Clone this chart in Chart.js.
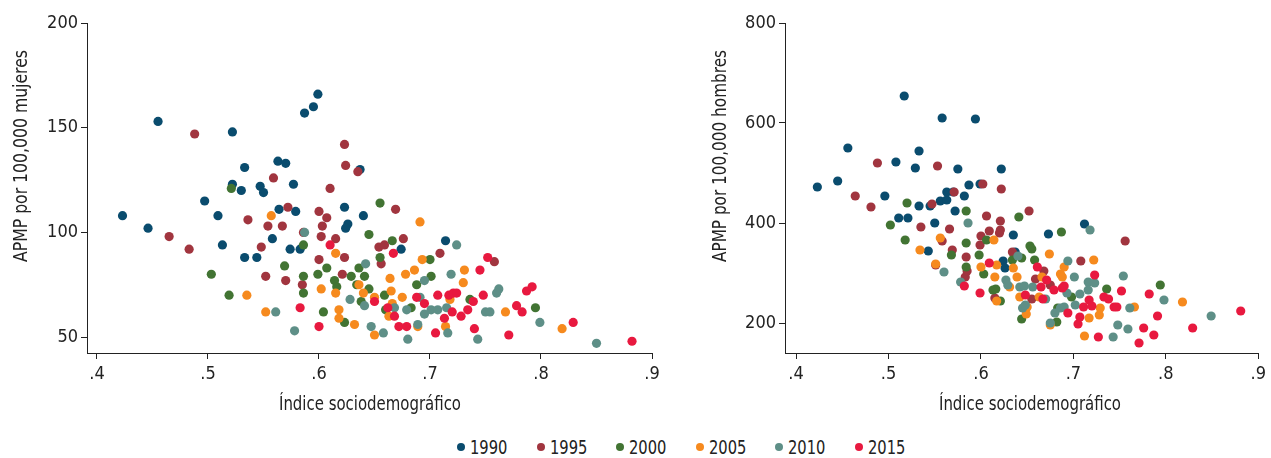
<!DOCTYPE html>
<html>
<head>
<meta charset="utf-8">
<script src="https://cdn.jsdelivr.net/npm/chart.js@4.4.1/dist/chart.umd.min.js"></script>
<style>
html,body{margin:0;padding:0;background:#fff;width:1271px;height:458px;overflow:hidden;}
#wrapL{position:absolute;left:0;top:0;width:665px;height:423px;}
#wrapR{position:absolute;left:700px;top:0;width:571px;height:423px;}
#legend{position:absolute;left:457px;top:436px;height:22px;display:flex;font-family:'Liberation Sans Narrow','DejaVu Sans Condensed',sans-serif;font-size:19px;color:#222;}
#legend .item{width:79.6px;display:flex;align-items:center;white-space:nowrap;}
#legend .dot{display:inline-block;width:8px;height:8px;border-radius:50%;margin-right:5px;flex:none;}
#legend .txt{display:inline-block;transform:scaleX(0.86);transform-origin:left center;}
</style>
</head>
<body>
<div id="wrapL"><canvas id="cL"></canvas></div>
<div id="wrapR"><canvas id="cR"></canvas></div>
<div id="legend"></div>
<script>
// ---- data ----
const years = ['1990','1995','2000','2005','2010','2015'];
const xTicks = [0.4,0.5,0.6,0.7,0.8,0.9];
const yTicksMujeres = [50,100,150,200];
const yTicksHombres = [200,400,600,800];
const xTitle = 'Índice sociodemográfico';
const yTitleMujeres = 'APMP por 100,000 mujeres';
const yTitleHombres = 'APMP por 100,000 hombres';

// [índice sociodemográfico, APMP]
const mujeres1990 = [[.423,108],[.446,102],[.455,153],[.497,115],[.509,108],[.513,94],[.522,123],[.522,148],[.533,131],[.530,120],[.533,88],[.547,122],[.550,119],[.544,88],[.558,97],[.563,134],[.570,133],[.564,111],[.577,123],[.574,92],[.583,92],[.587,157],[.595,160],[.599,166],[.579,110],[.623,112],[.640,108],[.626,104],[.624,102],[.637,130],[.674,92],[.714,96]];
const mujeres1995 = [[.465,98],[.483,92],[.488,147],[.536,106],[.548,93],[.552,79],[.554,103],[.559,126],[.567,103],[.570,77],[.572,112],[.585,75],[.586,100],[.600,87],[.600,110],[.607,107],[.603,103],[.602,98],[.610,121],[.615,97],[.621,80],[.623,88],[.623,142],[.624,132],[.635,129],[.654,93],[.659,94],[.656,85],[.669,111],[.676,97],[.709,90],[.758,86]];
const mujeres2000 = [[.503,80],[.519,70],[.521,121],[.569,84],[.586,94],[.586,79],[.586,71],[.599,80],[.607,83],[.614,77],[.616,74],[.604,62],[.623,57],[.655,114],[.645,99],[.666,96],[.655,88],[.629,79],[.636,83],[.641,79],[.634,75],[.645,73],[.659,70],[.660,63],[.683,64],[.688,75],[.700,87],[.701,79],[.736,68],[.795,64],[.638,67]];
const mujeres2005 = [[.535,70],[.552,62],[.557,108],[.602,73],[.615,90],[.615,71],[.618,63],[.618,59],[.632,56],[.636,75],[.640,71],[.650,69],[.650,51],[.664,78],[.665,72],[.663,60],[.666,66],[.675,69],[.678,80],[.686,82],[.693,87],[.691,105],[.689,55],[.714,55],[.718,68],[.731,82],[.730,76],[.768,62],[.819,54]];
const mujeres2010 = [[.561,62],[.578,53],[.587,100],[.628,68],[.642,85],[.641,65],[.647,55],[.658,52],[.668,64],[.680,49],[.689,56],[.695,77],[.695,61],[.701,63],[.707,63],[.715,64],[.719,80],[.724,94],[.716,52],[.743,49],[.750,62],[.754,62],[.762,73],[.760,71],[.799,57],[.850,47],[.691,69],[.679,63]];
const mujeres2015 = [[.583,64],[.600,55],[.610,94],[.650,67],[.662,64],[.667,90],[.668,60],[.672,55],[.679,55],[.688,69],[.695,66],[.705,52],[.707,70],[.713,59],[.717,70],[.721,71],[.724,71],[.720,62],[.728,60],[.734,63],[.739,67],[.740,54],[.745,82],[.748,70],[.752,88],[.771,51],[.778,65],[.783,62],[.787,72],[.792,74],[.829,57],[.882,48]];

const hombres1990 = [[.423,472],[.445,484],[.456,550],[.496,454],[.508,522],[.511,410],[.517,654],[.521,410],[.529,510],[.533,544],[.533,434],[.543,344],[.545,434],[.550,400],[.556,444],[.558,610],[.563,446],[.563,462],[.570,462],[.572,424],[.575,508],[.582,454],[.587,476],[.594,608],[.599,478],[.622,508],[.624,324],[.626,310],[.635,376],[.637,342],[.673,378],[.712,398]];
const hombres1995 = [[.464,454],[.481,432],[.488,520],[.535,392],[.547,438],[.551,316],[.553,514],[.558,364],[.566,388],[.569,346],[.571,462],[.583,292],[.584,332],[.585,304],[.599,356],[.600,374],[.602,478],[.606,414],[.609,384],[.620,380],[.621,404],[.622,468],[.634,342],[.652,424],[.615,250],[.655,248],[.659,288],[.668,304],[.708,324],[.756,364],[.675,276],[.621,386]];
const hombres2000 = [[.502,396],[.518,366],[.520,440],[.568,336],[.584,424],[.584,360],[.584,312],[.598,336],[.603,298],[.606,366],[.613,266],[.616,268],[.621,244],[.634,326],[.641,412],[.644,330],[.644,208],[.653,354],[.655,348],[.658,326],[.683,230],[.682,202],[.687,382],[.698,252],[.736,268],[.794,276]];
const hombres2005 = [[.534,346],[.551,318],[.556,370],[.600,312],[.614,366],[.615,292],[.617,316],[.617,244],[.631,272],[.635,310],[.639,292],[.642,252],[.649,218],[.650,232],[.663,252],[.666,292],[.674,338],[.675,196],[.686,298],[.688,292],[.690,312],[.712,174],[.717,210],[.722,326],[.728,216],[.729,230],[.766,232],[.818,242]];
const hombres2010 = [[.560,302],[.578,282],[.586,400],[.627,286],[.629,276],[.640,334],[.642,272],[.647,274],[.645,230],[.656,272],[.670,248],[.675,200],[.680,220],[.686,230],[.690,232],[.693,260],[.694,324],[.701,292],[.707,258],[.716,282],[.716,266],[.718,386],[.723,280],[.702,236],[.743,172],[.748,196],[.754,294],[.759,188],[.761,230],[.798,246],[.849,214],[.648,236]];
const hombres2015 = [[.582,274],[.599,260],[.609,320],[.648,256],[.661,312],[.665,272],[.667,248],[.671,286],[.679,266],[.688,270],[.690,274],[.694,220],[.705,198],[.707,212],[.711,232],[.717,246],[.720,234],[.723,296],[.727,172],[.733,252],[.738,248],[.744,232],[.747,232],[.752,264],[.771,160],[.776,190],[.782,258],[.787,176],[.791,214],[.829,190],[.881,224]];

// ---- styles ----
const colors = ['#0a4c6e','#a1353f','#427433','#f68a1e','#5e8f87','#e8193f'];
const FONT = "'Liberation Sans Narrow','DejaVu Sans Condensed',sans-serif";
Chart.defaults.font.family = FONT;
Chart.defaults.color = '#222';

const mujeresSeries = [mujeres1990,mujeres1995,mujeres2000,mujeres2005,mujeres2010,mujeres2015];
const hombresSeries = [hombres1990,hombres1995,hombres2000,hombres2005,hombres2010,hombres2015];

// draws the axis titles (real canvas text) at Stata-like positions
const axisTitlePlugin = {
  id: 'axisTitles',
  afterDraw(chart, args, opts) {
    const ctx = chart.ctx;
    ctx.save();
    ctx.fillStyle = '#222';
    ctx.font = '19px ' + FONT;
    ctx.textAlign = 'center';
    ctx.textBaseline = 'middle';
    ctx.fillText(opts.xText, opts.xPos[0], opts.xPos[1], opts.xMax);
    ctx.translate(opts.yPos[0], opts.yPos[1]);
    ctx.rotate(-Math.PI/2);
    ctx.fillText(opts.yText, 0, 0, opts.yMax);
    ctx.restore();
  }
};

function makeChart(id, series, yTicks, yMin, xMin, yTitle, yAxisWidth, padRight, titlePos){
  const datasets = series.map((s,i)=>({
    label: years[i],
    data: s.map(p=>({x:p[0], y:p[1]})),
    backgroundColor: colors[i],
    borderWidth: 0,
    pointRadius: 4.6,
    pointHoverRadius: 4.6,
    order: years.length - i
  }));
  return new Chart(document.getElementById(id), {
    type: 'scatter',
    data: {datasets},
    plugins: [axisTitlePlugin],
    options: {
      responsive: true,
      maintainAspectRatio: false,
      animation: false,
      events: [],
      layout: {padding: {top: 23, right: padRight, bottom: 0, left: 0}},
      plugins: {
        legend: {display: false}, tooltip: {enabled: false},
        axisTitles: Object.assign({xText: xTitle, yText: yTitle}, titlePos)
      },
      scales: {
        x: {
          type: 'linear', min: xMin, max: 0.9,
          afterBuildTicks: sc => { sc.ticks = xTicks.map(v=>({value:v})); },
          afterFit: sc => { sc.height = 70; },
          grid: {display: true, drawOnChartArea: false, drawTicks: true, tickLength: 6, color: '#222'},
          border: {display: true, color: '#222', width: 1},
          ticks: {padding: 5, font: {size: 18}, color: '#222', maxRotation: 0,
                  callback: v => v.toFixed(1).replace(/^0/,'')},
          title: {display: false}
        },
        y: {
          type: 'linear', min: yMin, max: yTicks[yTicks.length-1],
          afterBuildTicks: sc => { sc.ticks = yTicks.map(v=>({value:v})); },
          afterFit: sc => { sc.width = yAxisWidth; },
          grid: {display: true, drawOnChartArea: false, drawTicks: true, tickLength: 6, color: '#222'},
          border: {display: true, color: '#222', width: 1},
          ticks: {padding: 3, font: {size: 18}, color: '#222'},
          title: {display: false}
        }
      }
    }
  });
}

makeChart('cL', mujeresSeries, yTicksMujeres, 42.4, 0.391, yTitleMujeres, 87, 13,
  {xPos: [370, 405], xMax: 182, yPos: [22, 156], yMax: 212});
makeChart('cR', hombresSeries, yTicksHombres, 140, 0.388, yTitleHombres, 85, 7,
  {xPos: [330, 405], xMax: 182, yPos: [21, 156], yMax: 212});

// legend
const lg = document.getElementById('legend');
years.forEach((y,i)=>{
  const it = document.createElement('span'); it.className='item';
  const d = document.createElement('span'); d.className='dot'; d.style.background = colors[i];
  const t = document.createElement('span'); t.className='txt'; t.textContent = y;
  it.appendChild(d); it.appendChild(t);
  lg.appendChild(it);
});
</script>
</body>
</html>
